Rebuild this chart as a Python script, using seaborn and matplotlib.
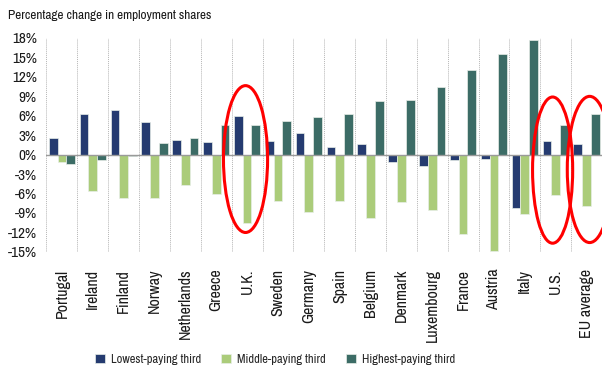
import matplotlib
matplotlib.use("Agg")
import matplotlib.pyplot as plt
from matplotlib import font_manager
from matplotlib.patches import Ellipse
import seaborn as sns
import pandas as pd
import numpy as np

countries = ["Portugal", "Ireland", "Finland", "Norway", "Netherlands", "Greece", "U.K.",
             "Sweden", "Germany", "Spain", "Belgium", "Denmark", "Luxembourg", "France",
             "Austria", "Italy", "U.S.", "EU average"]
lowest = [2.6, 6.3, 6.8, 5.0, 2.3, 1.9, 5.9, 2.1, 3.3, 1.1, 1.6, -1.1, -1.7, -0.85,
          -0.7, -8.3, 2.1, 1.6]
middle = [-1.2, -5.6, -6.7, -6.7, -4.7, -6.1, -10.5, -7.2, -8.9, -7.2, -9.7, -7.3, -8.6,
          -12.2, -14.8, -9.2, -6.3, -7.9]
highest = [-1.4, -0.85, -0.2, 1.7, 2.6, 4.5, 4.6, 5.2, 5.8, 6.2, 8.3, 8.4, 10.4, 13.0,
           15.5, 17.6, 4.5, 6.3]
groups = ["Lowest-paying third", "Middle-paying third", "Highest-paying third"]
y_ticks = [18, 15, 12, 9, 6, 3, 0, -3, -6, -9, -12, -15]

df = pd.DataFrame({
    "country": countries * 3,
    "group": [groups[0]] * len(countries) + [groups[1]] * len(countries) + [groups[2]] * len(countries),
    "value": lowest + middle + highest,
})

sns.set_theme(style="white")

# prefer a narrow sans face when one is available
names = sorted({f.name for f in font_manager.fontManager.ttflist})
narrow = [n for n in names if "Condensed" in n or "Narrow" in n]
plt.rcParams["font.family"] = narrow[:1] + ["DejaVu Sans"]

palette = {groups[0]: "#253b70", groups[1]: "#abcc7a", groups[2]: "#3c6c66"}

fig = plt.figure(figsize=(6.02, 3.71), dpi=100)
ax = fig.add_axes([0.0772, 0.3208, 0.9228, 0.578])

sns.barplot(data=df, x="country", y="value", hue="group", order=countries,
            hue_order=groups, palette=palette, width=0.85, ax=ax,
            edgecolor="#e8eee8", linewidth=0.5, saturation=1)

n = len(countries)
ax.set_xlim(-0.5, n - 0.5)
ax.set_ylim(-15, 18)
ax.set_yticks(y_ticks)
ax.set_yticklabels([f"{t}%" for t in y_ticks], fontsize=11, color="#1a1a1a")
ax.set_xticks(range(n))
ax.set_xticklabels(countries, rotation=90, fontsize=11.5, color="#1a1a1a")
ax.tick_params(axis="x", length=0, pad=12)
ax.tick_params(axis="y", length=0, pad=7)
ax.set_xticks(np.arange(-0.5, n, 1.0), minor=True)
ax.tick_params(axis="x", which="minor", length=3, color="#bbbbbb", width=0.6)
ax.set_xlabel("")
ax.set_ylabel("")

for s in ax.spines.values():
    s.set_visible(False)

# dotted separators between country groups
for xb in np.arange(-0.5, n, 1.0):
    ax.axvline(xb, color="#b5b5b5", linestyle=(0, (1, 1)), linewidth=0.7, zorder=0)
ax.axhline(0, color="#9a9a9a", linewidth=1.0, zorder=3)

# highlight rings
for cx, cy, w, h in [(5.95, -0.7, 1.43, 22.6), (15.9, -2.4, 1.3, 22.5), (17.1, -2.3, 1.45, 22.5)]:
    ax.add_patch(Ellipse((cx, cy), w, h, fill=False, edgecolor="#ff0000",
                         linewidth=2.2, zorder=5, clip_on=False))

handles, labels = ax.get_legend_handles_labels()
if ax.get_legend() is not None:
    ax.get_legend().remove()
fig.legend(handles, labels, loc="center", bbox_to_anchor=(0.457, 0.032), ncol=3,
           frameon=False, fontsize=9, handlelength=0.8, handleheight=0.8,
           columnspacing=1.6, handletextpad=0.5)

fig.text(0.013, 0.958, "Percentage change in employment shares", fontsize=9.5,
         ha="left", va="center", color="#1a1a1a")

fig.savefig("out.png", dpi=100)
